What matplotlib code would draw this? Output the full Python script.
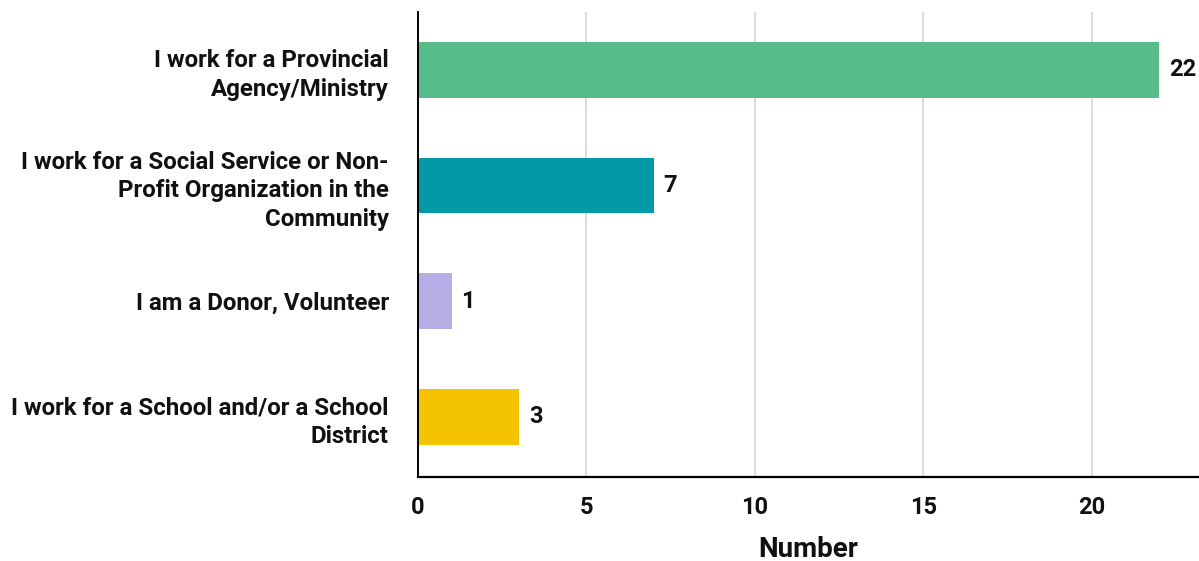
import matplotlib
matplotlib.use('Agg')
import matplotlib.pyplot as plt

# --- data ---
categories = [
    "I work for a Provincial\nAgency/Ministry",
    "I work for a Social Service or Non-\nProfit Organization in the\nCommunity",
    "I am a Donor, Volunteer",
    "I work for a School and/or a School\nDistrict",
]
values = [22, 7, 1, 3]
bar_colors = ["#57bb8a", "#0399a7", "#b8ace6", "#f5c400"]
x_ticks = [0, 5, 10, 15, 20]

plt.rcParams['font.family'] = ['Roboto', 'DejaVu Sans']
plt.rcParams['font.weight'] = 'bold'

fig = plt.figure(figsize=(11.99, 5.61), dpi=100)
ax = fig.add_axes([418 / 1199, 1 - 477 / 561, (1199 - 418) / 1199, (477 - 12) / 561])

ypos = list(range(len(categories)))
ax.barh(ypos, values, height=0.48, color=bar_colors, zorder=3)

for y, v in zip(ypos, values):
    ax.annotate(str(v), (v, y), xytext=(7, 0), textcoords='offset points',
                va='center', ha='left', fontsize=17, fontweight='bold', color='#111111')

ax.set_ylim(3.52, -0.5)
ax.set_xlim(0, 23.18)
ax.set_yticks(ypos)
ax.set_yticklabels(categories, fontsize=17.3, fontweight='bold', color='#111111',
                   linespacing=1.33)
ax.set_xticks(x_ticks)
ax.set_xticklabels([str(t) for t in x_ticks], fontsize=17, fontweight='bold', color='#111111')
ax.tick_params(axis='y', length=0, pad=21)
ax.tick_params(axis='x', length=0, pad=14)

ax.grid(axis='x', color='#d9d9d9', linewidth=1.3, zorder=0)
ax.set_axisbelow(True)
for s in ['top', 'right']:
    ax.spines[s].set_visible(False)
ax.spines['left'].set_linewidth(1.4)
ax.spines['bottom'].set_linewidth(1.6)
ax.spines['left'].set_zorder(4)

ax.set_xlabel("Number", fontsize=20, fontweight='bold', color='#111111', labelpad=12)

fig.savefig("out.png", dpi=100)
plt.close()
